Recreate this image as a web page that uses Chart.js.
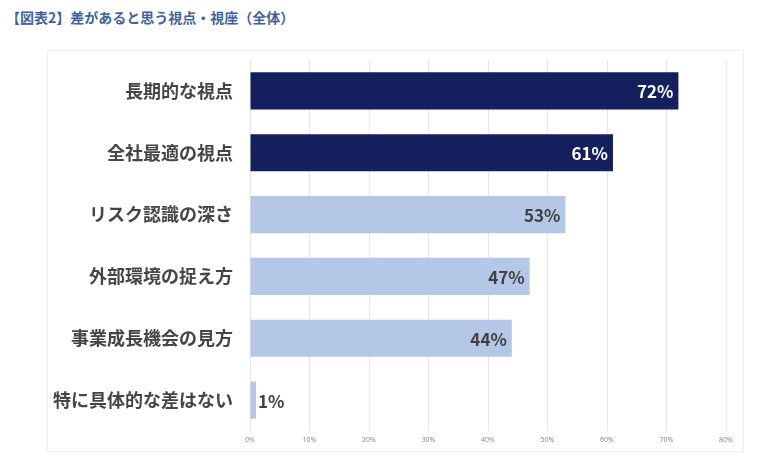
<!DOCTYPE html>
<html><head><meta charset="utf-8">
<script src="https://cdn.jsdelivr.net/npm/chart.js@4/dist/chart.umd.min.js"></script>
<style>
html,body{margin:0;padding:0;background:#fff;}
#wrap{position:relative;width:780px;height:465px;}
#title{position:absolute;left:6px;top:7px;font:bold 14px "Noto Sans CJK JP";color:#3f62a0;white-space:nowrap;}
#box{position:absolute;left:47px;top:50px;width:695px;height:400px;border:1px solid #f0f0f0;}
#c{position:absolute;left:0;top:0;}
</style></head><body>
<div id="wrap">
<div id="title">【図表2】差があると思う視点・視座（全体）</div>
<div id="box"></div>
<canvas id="c" width="780" height="465"></canvas>
</div>
<script>
const categories = ["長期的な視点","全社最適の視点","リスク認識の深さ","外部環境の捉え方","事業成長機会の見方","特に具体的な差はない"];
const values = [72, 61, 53, 47, 44, 1];
const barColors = ["#14205e","#14205e","#b4c7e7","#b4c7e7","#b4c7e7","#b4c7e7"];
const labelColors = ["#ffffff","#ffffff","#404040","#404040","#404040","#404040"];
const xTicks = [0,10,20,30,40,50,60,70,80];

const labelPlugin = {
  id: 'vals',
  afterDatasetsDraw(chart) {
    const ctx = chart.ctx;
    const meta = chart.getDatasetMeta(0);
    ctx.save();
    ctx.font = 'bold 17px "Noto Sans CJK JP"';
    ctx.textBaseline = 'middle';
    meta.data.forEach((bar, i) => {
      const v = values[i];
      const txt = v + '%';
      ctx.fillStyle = labelColors[i];
      if (v < 5) {
        ctx.textAlign = 'left';
        ctx.fillText(txt, bar.x + 2, bar.y + 1);
      } else {
        ctx.textAlign = 'right';
        ctx.fillText(txt, bar.x - 5, bar.y + 1);
      }
    });
    ctx.restore();
  }
};

new Chart(document.getElementById('c'), {
  type: 'bar',
  data: {
    labels: categories,
    datasets: [{
      data: values,
      backgroundColor: barColors,
      borderColor: barColors,
      borderWidth: 0,
      barPercentage: 0.6,
      categoryPercentage: 1.0
    }]
  },
  options: {
    indexAxis: 'y',
    responsive: false,
    animation: false,
    devicePixelRatio: 1,
    layout: { padding: { top: 60, right: 54, bottom: 0, left: 0 } },
    plugins: { legend: { display: false }, tooltip: { enabled: false } },
    scales: {
      x: {
        min: 0, max: 80,
        afterBuildTicks(scale) { scale.ticks = xTicks.map(v => ({ value: v })); },
        afterFit(scale) { scale.height = 34; },
        grid: { color: '#e6e6e6', drawTicks: false, lineWidth: 1 },
        border: { display: false },
        ticks: {
          padding: 5,
          color: '#8a8a8a',
          font: { family: 'Noto Sans', size: 7 },
          callback: (v) => v + '%',
          maxRotation: 0
        }
      },
      y: {
        afterFit(scale) { scale.width = 250; },
        grid: { display: false, drawTicks: false },
        border: { display: false },
        ticks: {
          padding: 17,
          color: '#454545',
          font: { family: 'Noto Sans CJK JP', size: 18, weight: 'bold' }
        }
      }
    }
  },
  plugins: [labelPlugin]
});
</script>
</body></html>
